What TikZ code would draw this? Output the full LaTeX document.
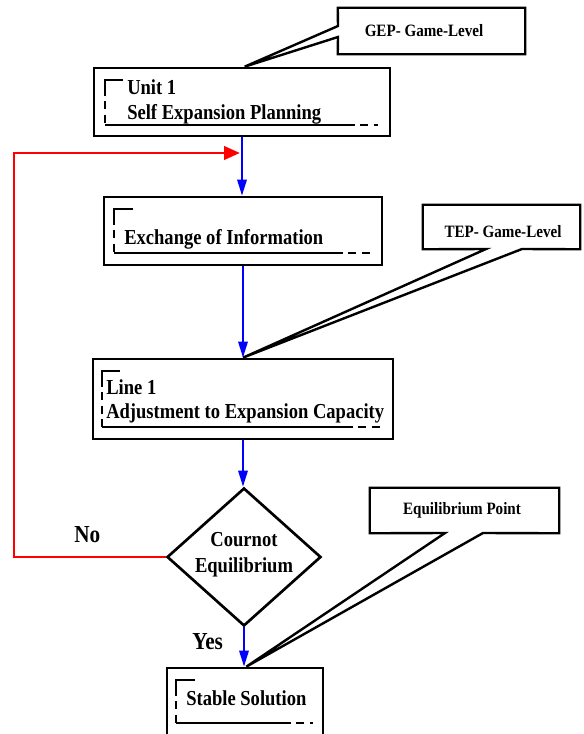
\documentclass[tikz,border=0pt]{standalone}
\usepackage{fontspec}
\setmainfont{Liberation Serif}[FakeStretch=0.87]
\usetikzlibrary{arrows.meta,fit,shapes.geometric}
\begin{document}
\begin{tikzpicture}[x=0.75pt,y=-0.75pt,
  box/.style={draw, line width=2pt, inner sep=0pt},
  hidden/.style={inner sep=0pt},
  mainfont/.style={font=\fontsize{16pt}{19pt}\selectfont\bfseries, inner sep=0pt},
  callfont/.style={font=\fontsize{13pt}{15pt}\selectfont\bfseries, inner sep=0pt},
  bigfont/.style={font=\fontsize{18.3pt}{22pt}\selectfont\bfseries, inner sep=0pt},
  flow/.style={draw=blue, line width=1.6pt, -{Triangle[length=12pt,width=7pt,fill=blue]}},
  back/.style={draw=red, line width=2.2pt, -{Triangle[length=12pt,width=10pt,fill=red]}},
  brk/.style={line width=1.5pt},
  brkd/.style={line width=1.5pt, dash pattern=on 6pt off 4pt},
  callout/.style={line width=1.8pt, line join=miter}]
\useasboundingbox (0,0) rectangle (583,734);

% main boxes
\node[box, fit={(94,68) (390,136)}] (u1) {};
\node[box, fit={(104,197) (382,265)}] (ex) {};
\node[box, fit={(93,359) (393,439)}] (l1) {};
\node[draw, diamond, line width=2pt, inner sep=0pt, minimum width=115.5pt, minimum height=103.5pt] (ce) at (244,557) {};
\node[box, fit={(167,668) (323,745)}] (st) {};

% callout frames (invisible nodes)
\node[hidden, fit={(338,8) (525,54)}] (gep) {};
\node[hidden, fit={(423,205) (580,249)}] (tep) {};
\node[hidden, fit={(370,488) (559,533)}] (eqp) {};

% texts
\node[mainfont, anchor=base west] (t1a) at (127,95) {Unit 1};
\node[mainfont, anchor=base west] (t1b) at (127,120) {Self Expansion Planning};
\node[mainfont, anchor=base west] (t2) at (124,244) {Exchange of Information};
\node[mainfont, anchor=base west] (t3a) at (106,394) {Line 1};
\node[mainfont, anchor=base west] (t3b) at (106,418) {Adjustment to Expansion Capacity};
\node[mainfont, anchor=base] (t4a) at (244,546) {Cournot};
\node[mainfont, anchor=base] (t4b) at (244,572) {Equilibrium};
\node[mainfont, anchor=base west] (t5) at (186,705) {Stable Solution};
\node[callfont, anchor=base] (tg) at (424,37) {GEP- Game-Level};
\node[callfont, anchor=base] (tt) at (503,237) {TEP- Game-Level};
\node[callfont, anchor=base] (te) at (462,514) {Equilibrium Point};
\node[bigfont, anchor=base west] (no) at (74,542) {No};
\node[bigfont, anchor=base west] (yes) at (192,649) {Yes};

% bracket marks inside boxes
\draw[brk] (123,80) -- (105,80) -- (105,88);
\draw[brkd] (105,88) -- (105,125);
\draw[brk] (105,125) -- (347,125);
\draw[brkd] (347,125) -- (378,125);

\draw[brk] (133,209) -- (114,209) -- (114,217);
\draw[brkd] (114,217) -- (114,253);
\draw[brk] (114,253) -- (335,253);
\draw[brkd] (335,253) -- (370,253);

\draw[brk] (120,371) -- (102,371) -- (102,379);
\draw[brkd] (102,379) -- (102,427);
\draw[brk] (102,427) -- (345,427);
\draw[brkd] (345,427) -- (382,427);

\draw[brk] (195,680) -- (176,680) -- (176,688);
\draw[brkd] (176,688) -- (176,723);
\draw[brk] (176,723) -- (283,723);
\draw[brkd] (283,723) -- (313,723);

% flow connectors
\draw[flow] (u1.south) -- (u1.south |- ex.north);
\draw[flow] (ex.south) -- (ex.south |- l1.north);
\draw[flow] (l1.south) -- (l1.south |- ce.north);
\draw[flow] (ce.south) -- (ce.south |- st.north);

% feedback loop
\coordinate (rc) at (14,153);
\draw[back, line join=miter] (ce.west) -| (rc) -- ([xshift=-1.5pt]rc -| u1.south);

% callouts
\draw[callout] (338,26) -- ([xshift=2pt]u1.north) -- (338,37) -- (gep.south west) -- (gep.south east) -- (gep.north east) -- (gep.north west) -- cycle;
\draw[callout] (486,249) -- (l1.north) -- (522,249) -- (tep.south east) -- (tep.north east) -- (tep.north west) -- (tep.south west) -- cycle;
\draw[callout] (445,533) -- ([xshift=1pt]st.north) -- (483,533) -- (eqp.south east) -- (eqp.north east) -- (eqp.north west) -- (eqp.south west) -- cycle;
\end{tikzpicture}
\end{document}
